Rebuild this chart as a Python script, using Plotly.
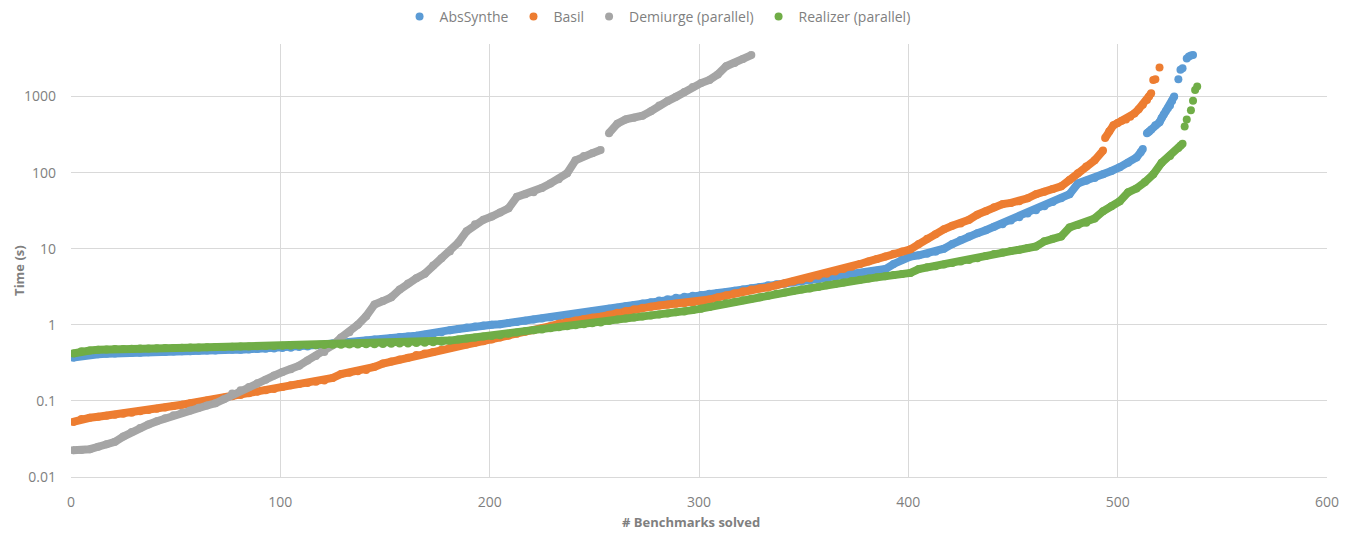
import plotly.graph_objects as go

# ---------------- data ----------------
abs_x = [1, 5, 9, 13, 17, 21, 25, 29, 33, 37, 41, 45, 49, 53, 57, 61, 65, 69, 73, 77,
         81, 85, 89, 93, 97, 101, 105, 109, 113, 117, 121, 125, 129, 133, 137, 141, 145, 149, 153, 157,
         161, 165, 169, 173, 177, 181, 185, 189, 193, 197, 201, 205, 209, 213, 217, 221, 225, 229, 233, 237,
         241, 245, 249, 253, 257, 261, 265, 269, 273, 277, 281, 285, 289, 293, 297, 301, 305, 309, 313, 317,
         321, 325, 329, 333, 337, 341, 345, 349, 353, 357, 361, 365, 369, 373, 377, 381, 385, 389, 393, 397,
         401, 405, 409, 413, 417, 421, 425, 429, 433, 437, 441, 445, 449, 453, 457, 461, 465, 469, 473, 477,
         481, 485, 489, 493, 497, 501, 505, 509,
         511, 512, 514, 515, 516, 518, 520, 521, 522, 523, 524, 525, 526, 527, 529, 530, 531, 533, 534, 535, 536]
abs_y = [0.37, 0.39, 0.40, 0.41, 0.415, 0.42, 0.425, 0.43, 0.43, 0.435, 0.44, 0.44, 0.445, 0.45, 0.45, 0.455, 0.46, 0.46, 0.465, 0.47,
         0.47, 0.475, 0.48, 0.485, 0.49, 0.495, 0.50, 0.51, 0.52, 0.54, 0.55, 0.57, 0.58, 0.59, 0.60, 0.62, 0.64, 0.65, 0.67, 0.69,
         0.70, 0.72, 0.74, 0.76, 0.80, 0.85, 0.88, 0.92, 0.95, 0.98, 1.0, 1.02, 1.06, 1.09, 1.13, 1.17, 1.21, 1.25, 1.29, 1.33,
         1.38, 1.43, 1.49, 1.55, 1.62, 1.68, 1.75, 1.82, 1.90, 1.98, 2.08, 2.17, 2.26, 2.33, 2.40, 2.46, 2.55, 2.62, 2.70, 2.80,
         2.90, 3.02, 3.15, 3.30, 3.40, 3.50, 3.60, 3.70, 3.82, 3.95, 4.10, 4.25, 4.40, 4.55, 4.75, 4.95, 5.15, 5.4, 6.3, 7.2,
         7.9, 8.2, 8.6, 9.1, 10.0, 11.5, 13.0, 14.5, 16.0, 17.5, 19.5, 21.0, 23.5, 26.0, 29.0, 32.0, 36.0, 41.0, 46.0, 52.0,
         72.0, 78.0, 85.0, 95.0, 105, 118, 135, 158,
         185, 205, 330, 345, 365, 420, 460, 520, 580, 640, 700, 760, 870, 1000, 1680, 2250, 2350, 3150, 3350, 3450, 3500]

basil_x = [1, 5, 9, 13, 17, 21, 25, 29, 33, 37, 41, 45, 49, 53, 57, 61, 65, 69, 73, 77,
           81, 85, 89, 93, 97, 101, 105, 109, 113, 117, 121, 125, 129, 133, 137, 141, 145, 149, 153, 157,
           161, 165, 169, 173, 177, 181, 185, 189, 193, 197, 201, 205, 209, 213, 217, 221, 225, 229, 233, 237,
           241, 245, 249, 253, 257, 261, 265, 269, 273, 277, 281, 285, 289, 293, 297, 301, 305, 309, 313, 317,
           321, 325, 329, 333, 337, 341, 345, 349, 353, 357, 361, 365, 369, 373, 377, 381, 385, 389, 393, 397,
           401, 405, 409, 413, 417, 421, 425, 429, 433, 437, 441, 445, 449, 453, 457, 461, 465, 469, 473, 477,
           481, 485, 489, 493,
           494, 496, 498, 500, 502, 504, 506, 508, 510, 512, 514, 515, 516, 517, 518, 520]
basil_y = [0.053, 0.058, 0.060, 0.062, 0.064, 0.066, 0.068, 0.070, 0.073, 0.076, 0.079, 0.082, 0.086, 0.089, 0.093, 0.097, 0.101, 0.106, 0.110, 0.115,
           0.120, 0.126, 0.132, 0.138, 0.143, 0.152, 0.160, 0.167, 0.172, 0.178, 0.185, 0.20, 0.225, 0.235, 0.245, 0.255, 0.28, 0.31, 0.33, 0.35,
           0.37, 0.40, 0.42, 0.44, 0.47, 0.50, 0.53, 0.55, 0.58, 0.61, 0.64, 0.68, 0.72, 0.76, 0.81, 0.85, 0.90, 0.96, 1.03, 1.09,
           1.14, 1.19, 1.24, 1.28, 1.36, 1.44, 1.52, 1.60, 1.67, 1.73, 1.79, 1.84, 1.89, 1.92, 1.95, 2.0, 2.15, 2.3, 2.45, 2.6,
           2.75, 2.9, 3.0, 3.1, 3.3, 3.5, 3.7, 3.9, 4.1, 4.4, 4.7, 5.0, 5.4, 5.8, 6.3, 6.8, 7.3, 7.9, 8.6, 9.2,
           9.8, 11.5, 13.5, 15.5, 18.0, 20.0, 21.5, 24.0, 28.0, 31.0, 35.0, 38.5, 40.0, 42.0, 46.0, 52.0, 56.0, 61.0, 66.0, 80.0,
           98.0, 120, 145, 195,
           285, 350, 420, 450, 480, 500, 540, 600, 680, 780, 900, 1000, 1100, 1650, 1680, 2400]

dem_x = [1, 5, 9, 13, 17, 21, 25, 29, 33, 37, 41, 45, 49, 53, 57, 61, 65, 69, 73, 77,
         81, 85, 89, 93, 97, 101, 105, 109, 113, 117, 121, 125, 129, 133, 137, 141, 145, 149, 153, 157,
         161, 165, 169, 173, 177, 181, 185, 189, 193, 197, 201, 205, 209, 213, 217, 221, 225, 229, 233, 237,
         241, 245, 249, 253, 257, 261, 265, 269, 273, 277, 281, 285, 289, 293, 297, 301, 305, 309, 313, 317,
         321, 325]
dem_y = [0.0225, 0.0227, 0.0232, 0.025, 0.027, 0.029, 0.034, 0.039, 0.044, 0.049, 0.054, 0.059, 0.065, 0.070, 0.075, 0.081, 0.087, 0.093, 0.105, 0.125,
         0.138, 0.152, 0.17, 0.19, 0.215, 0.24, 0.26, 0.29, 0.34, 0.39, 0.44, 0.54, 0.68, 0.80, 1.0, 1.3, 1.85, 2.05, 2.3, 2.9,
         3.5, 4.1, 4.7, 6.0, 7.5, 9.2, 12.0, 17.0, 21.0, 24.0, 26.5, 30.0, 34.0, 48.0, 52.0, 55.0, 63.0, 72.0, 82.0, 98.0,
         145, 165, 180, 198, 330, 440, 500, 525, 560, 640, 760, 870, 990, 1150, 1330, 1500, 1650, 1950, 2500, 2750,
         3100, 3500]

real_x = [1, 5, 9, 13, 17, 21, 25, 29, 33, 37, 41, 45, 49, 53, 57, 61, 65, 69, 73, 77,
          81, 85, 89, 93, 97, 101, 105, 109, 113, 117, 121, 125, 129, 133, 137, 141, 145, 149, 153, 157,
          161, 165, 169, 173, 177, 181, 185, 189, 193, 197, 201, 205, 209, 213, 217, 221, 225, 229, 233, 237,
          241, 245, 249, 253, 257, 261, 265, 269, 273, 277, 281, 285, 289, 293, 297, 301, 305, 309, 313, 317,
          321, 325, 329, 333, 337, 341, 345, 349, 353, 357, 361, 365, 369, 373, 377, 381, 385, 389, 393, 397,
          401, 405, 409, 413, 417, 421, 425, 429, 433, 437, 441, 445, 449, 453, 457, 461, 465, 469, 473, 477,
          481, 485, 489, 493, 497, 501, 505, 509, 513, 517, 521, 525, 529,
          530, 531, 532, 533, 535, 536, 537, 538]
real_y = [0.42, 0.45, 0.46, 0.47, 0.475, 0.48, 0.482, 0.485, 0.488, 0.49, 0.492, 0.495, 0.497, 0.50, 0.502, 0.505, 0.507, 0.51, 0.512, 0.515,
          0.517, 0.52, 0.522, 0.525, 0.527, 0.53, 0.532, 0.535, 0.537, 0.54, 0.542, 0.545, 0.547, 0.55, 0.552, 0.555, 0.557, 0.56, 0.563, 0.566,
          0.57, 0.575, 0.58, 0.59, 0.60, 0.62, 0.64, 0.66, 0.68, 0.70, 0.71, 0.73, 0.76, 0.79, 0.82, 0.85, 0.87, 0.90, 0.93, 0.96,
          0.99, 1.02, 1.05, 1.07, 1.12, 1.17, 1.21, 1.25, 1.29, 1.33, 1.37, 1.41, 1.46, 1.50, 1.56, 1.63, 1.72, 1.82, 1.92, 2.0,
          2.1, 2.2, 2.3, 2.4, 2.55, 2.65, 2.78, 2.9, 3.0, 3.15, 3.3, 3.45, 3.6, 3.75, 3.9, 4.05, 4.2, 4.35, 4.5, 4.65,
          4.8, 5.4, 5.7, 5.9, 6.2, 6.5, 6.8, 7.1, 7.5, 8.0, 8.5, 8.9, 9.3, 9.7, 10.2, 10.7, 12.5, 13.5, 14.5, 19.0,
          20.5, 22.0, 25.0, 31.0, 36.0, 42.0, 55.0, 62.0, 75.0, 95.0, 135, 165, 210,
          225, 240, 405, 500, 660, 880, 1215, 1350]

series_names = ["AbsSynthe", "Basil", "Demiurge (parallel)", "Realizer (parallel)"]
series_colors = ["#5B9BD5", "#ED7D31", "#A5A5A5", "#70AD47"]
y_tick_vals = [0.01, 0.1, 1, 10, 100, 1000]
y_tick_text = ["0.01", "0.1", "1", "10", "100", "1000"]
x_tick_vals = [0, 100, 200, 300, 400, 500, 600]
x_title = "# Benchmarks solved"
y_title = "Time (s)"

# Runs of benchmarks where the reference's dots touch each other (drawn as a solid band)
dense_runs = [
    [(1, 512), (514, 527)],
    [(1, 493), (494, 516)],
    [(1, 253), (257, 325)],
    [(1, 531)],
]

# ---------------- figure ----------------
fig = go.Figure()
MS = 8
for name, color, xs, ys, runs in zip(series_names, series_colors,
                                     [abs_x, basil_x, dem_x, real_x],
                                     [abs_y, basil_y, dem_y, real_y], dense_runs):
    for lo, hi in runs:
        sx = [x for x in xs if lo <= x <= hi]
        sy = [y for x, y in zip(xs, ys) if lo <= x <= hi]
        fig.add_trace(go.Scatter(x=sx, y=sy, mode="lines", legendgroup=name, showlegend=False,
                                 line=dict(color=color, width=MS), hoverinfo="skip"))
    fig.add_trace(go.Scatter(x=xs, y=ys, mode="markers", name=name, legendgroup=name,
                             marker=dict(color=color, size=MS, line=dict(width=0))))

grid = "#D9D9D9"
txt = "#7F7F7F"
fam = "Open Sans, Noto Sans, sans-serif"
tick_font = dict(family=fam, size=14, color=txt)
# the page body has an 8px margin, so the figure sits 8px in from the window's corner
fig.update_layout(
    width=1348, height=528,
    paper_bgcolor="white", plot_bgcolor="white",
    margin=dict(l=63, r=29, t=36, b=59, autoexpand=False),
    font=dict(family=fam, size=14, color=txt),
    legend=dict(orientation="h", x=0.467, xanchor="center", yref="container", y=0.983, yanchor="middle",
                font=dict(size=14, color=txt), itemwidth=30, tracegroupgap=0),
    xaxis=dict(range=[0, 600], tickvals=x_tick_vals, showgrid=True, gridcolor=grid, gridwidth=1,
               showline=True, linecolor=grid, linewidth=1, zeroline=False, ticks="",
               tickfont=tick_font, ticklabelstandoff=12, automargin=False),
    yaxis=dict(type="log", range=[-2, 3.69], tickvals=y_tick_vals, ticktext=y_tick_text,
               showgrid=True, gridcolor=grid, gridwidth=1, showline=False, zeroline=False, ticks="",
               tickfont=tick_font, ticklabelstandoff=14, automargin=False),
    annotations=[
        dict(text="<b>" + x_title + "</b>", xref="paper", yref="paper", x=0.494, y=-0.104,
             xanchor="center", yanchor="middle", showarrow=False, font=dict(family=fam, size=13, color=txt)),
        dict(text="<b>" + y_title + "</b>", xref="paper", yref="paper", x=-0.0415, y=0.478,
             xanchor="center", yanchor="middle", textangle=-90, showarrow=False,
             font=dict(family=fam, size=13, color=txt)),
    ],
    showlegend=True,
)

fig.write_html("out.html")
